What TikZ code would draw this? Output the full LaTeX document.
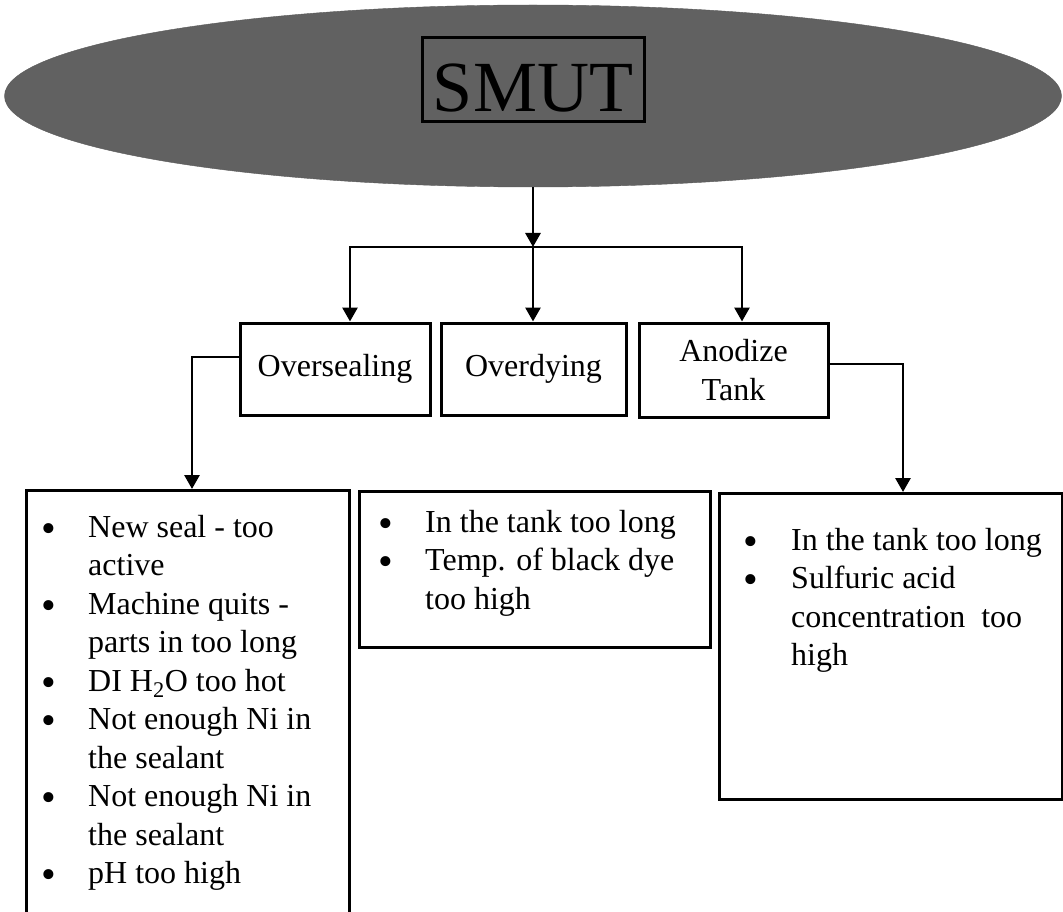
\documentclass[tikz,border=0pt]{standalone}
\usepackage{fontspec}
\setmainfont{Liberation Serif}
\usetikzlibrary{arrows.meta,shapes.geometric,positioning}
\newcommand{\blob}{\raisebox{-5pt}[0pt][0pt]{\fontsize{42}{38.5}\selectfont\textbullet}}

\begin{document}
\begin{tikzpicture}[
  x=1pt, y=-1pt,
  every node/.style={font=\fontsize{32}{38.5}\selectfont},
  cause/.style={draw, line width=3pt, inner sep=0pt, align=center},
  causelist/.style={anchor=base west, inner sep=0pt},
  feed/.style={draw, line width=2.8pt, -{Triangle[width=15pt,length=14pt]}},
  bus/.style={draw, line width=2.8pt, line cap=rect}
]
\clip (0,0) rectangle (1063,912);

% top problem
\node[ellipse, draw=black!65, fill=black!62, minimum width=1057pt,
  minimum height=182pt, inner sep=0pt] (cloud) at (533,96) {};
\node[draw, line width=3pt, minimum width=222pt, minimum height=84pt,
  inner sep=0pt] (smutframe) at (533,80) {};
\node[anchor=base, font=\fontsize{72}{72}\selectfont] (smut) at (533,112) {SMUT};

% categories
\node[cause, minimum width=190pt, minimum height=92pt] (seal) at (335,369) {Oversealing};
\node[cause, minimum width=185pt, minimum height=92pt] (dye) at (533.5,369) {Overdying};
\node[cause, minimum width=189pt, minimum height=94pt] (tank) at (733.5,370) {Anodize\\Tank};

% cause boxes
\node[cause, minimum width=323pt, minimum height=440pt, anchor=north west] (sealbox) at (25,489) {};
\node[cause, minimum width=351pt, minimum height=156pt, anchor=north west] (dyebox) at (358,490) {};
\node[cause, minimum width=343pt, minimum height=306pt, anchor=north west] (tankbox) at (718,492) {};

\node[causelist] (sealtext) at (41,537) {\begin{tabular}[t]{@{}p{47pt}@{}l@{}}
\blob & New seal - too\\
 & active\\
\blob & Machine quits -\\
 & parts in too long\\
\blob & DI H\textsubscript{2}O too hot\\
\blob & Not enough Ni in\\
 & the sealant\\
\blob & Not enough Ni in\\
 & the sealant\\
\blob & pH too high
\end{tabular}};
\node[causelist] (dyetext) at (378,532) {\begin{tabular}[t]{@{}p{47pt}@{}l@{}}
\blob & In the tank too long\\
\blob & Temp. of black dye\\
 & too high
\end{tabular}};
\node[causelist] (tanktext) at (743,550) {\begin{tabular}[t]{@{}p{48pt}@{}l@{}}
\blob & In the tank too long\\
\blob & Sulfuric acid\\
 & concentration~ too\\
 & high
\end{tabular}};

% connectors
\coordinate (busL) at (350,247);
\coordinate (busC) at (533,247);
\coordinate (busR) at (742,247);
\draw[feed] (cloud.south) -- (busC);
\draw[bus] (busL) -- (busR);
\draw[feed] (busL) -- (busL |- seal.north);
\draw[feed] (busC) -- (busC |- dye.north);
\draw[feed] (busR) -- (busR |- tank.north);
\draw[feed] ([yshift=12pt]seal.west) -| ([xshift=4pt]sealbox.north);
\draw[feed] ([yshift=6pt]tank.east) -| ([xshift=12pt]tankbox.north);
\end{tikzpicture}
\end{document}
